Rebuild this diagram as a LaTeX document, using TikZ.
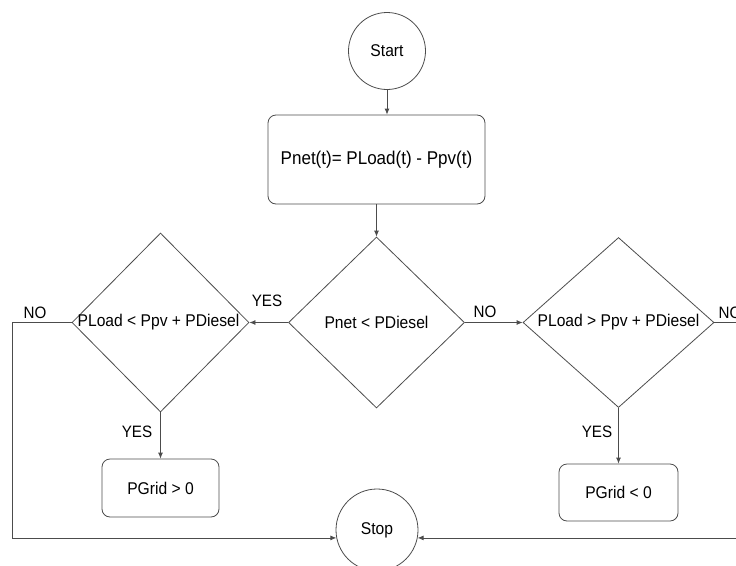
\documentclass[tikz,border=0pt]{standalone}
\usepackage{fontspec}
\setmainfont{Liberation Sans}[FakeStretch=0.92]
\usetikzlibrary{shapes.geometric,arrows.meta}
\begin{document}
\begin{tikzpicture}[x=1pt,y=-1pt,
  line/.style={draw=black!70,line width=0.8pt},
  arr/.style={line,-{Latex[length=6pt,width=5pt]}},
  roundbox/.style={line,rounded corners=8pt,inner sep=0pt},
  circ/.style={line,circle,inner sep=0pt},
  dia/.style={line,diamond,inner sep=0pt},
  txt/.style={font=\fontsize{17}{20}\selectfont,inner sep=0pt},
  lbl/.style={font=\fontsize{16.5}{19}\selectfont,inner sep=0pt}
]
\useasboundingbox (0,0) rectangle (736,565);
\node[circ,minimum size=77pt] (start) at (387,51) {};
\node[txt] (startt) at (start) {Start};
\node[roundbox,minimum width=217pt,minimum height=89pt] (calc) at (376.5,159.5) {};
\node[txt,font=\fontsize{18.5}{21}\selectfont] (calct) at (calc) {Pnet(t)= PLoad(t) - Ppv(t)};
\node[dia,minimum width=176pt,minimum height=171pt] (d1) at (376.5,322.5) {};
\node[txt] (d1t) at (d1) {Pnet {<} PDiesel};
\node[dia,minimum width=177pt,minimum height=179pt] (dL) at (160.5,322.5) {};
\node[txt] (dLt) at (158.5,322.5) {PLoad {<} Ppv + PDiesel};
\node[dia,minimum width=191pt,minimum height=170pt] (dR) at (618.5,322.5) {};
\node[txt] (dRt) at (dR) {PLoad {>} Ppv + PDiesel};
\node[roundbox,minimum width=117pt,minimum height=58pt] (boxL) at (160.5,488) {};
\node[txt] (boxLt) at (boxL) {PGrid {>} 0};
\node[roundbox,minimum width=119pt,minimum height=57pt] (boxR) at (618.5,492.5) {};
\node[txt] (boxRt) at (boxR) {PGrid {<} 0};
\node[circ,minimum size=82pt] (stop) at (377,530) {};
\node[txt] (stopt) at (stop) {Stop};

\draw[arr] (start.south) -- (start.south |- calc.north);
\draw[arr] (calc.south) -- (d1.north);
\draw[arr] (d1.west) -- (dL.east);
\draw[arr] (d1.east) -- (dR.west);
\draw[arr] (dL.south) -- (boxL.north);
\draw[arr] (dR.south) -- (boxR.north);
\draw[arr] (dL.west) -- ++(-59,0) |- (stop.191);
\draw[arr] (dR.east) -- ++(40,0) |- (stop.349);

\node[lbl] (yes1) at (267,301) {YES};
\node[lbl] (no1) at (485,312) {NO};
\node[lbl] (yes2) at (137,432) {YES};
\node[lbl] (yes3) at (597,432) {YES};
\node[lbl] (no2) at (35,313) {NO};
\node[lbl] (no3) at (730,313) {NO};
\end{tikzpicture}
\end{document}
